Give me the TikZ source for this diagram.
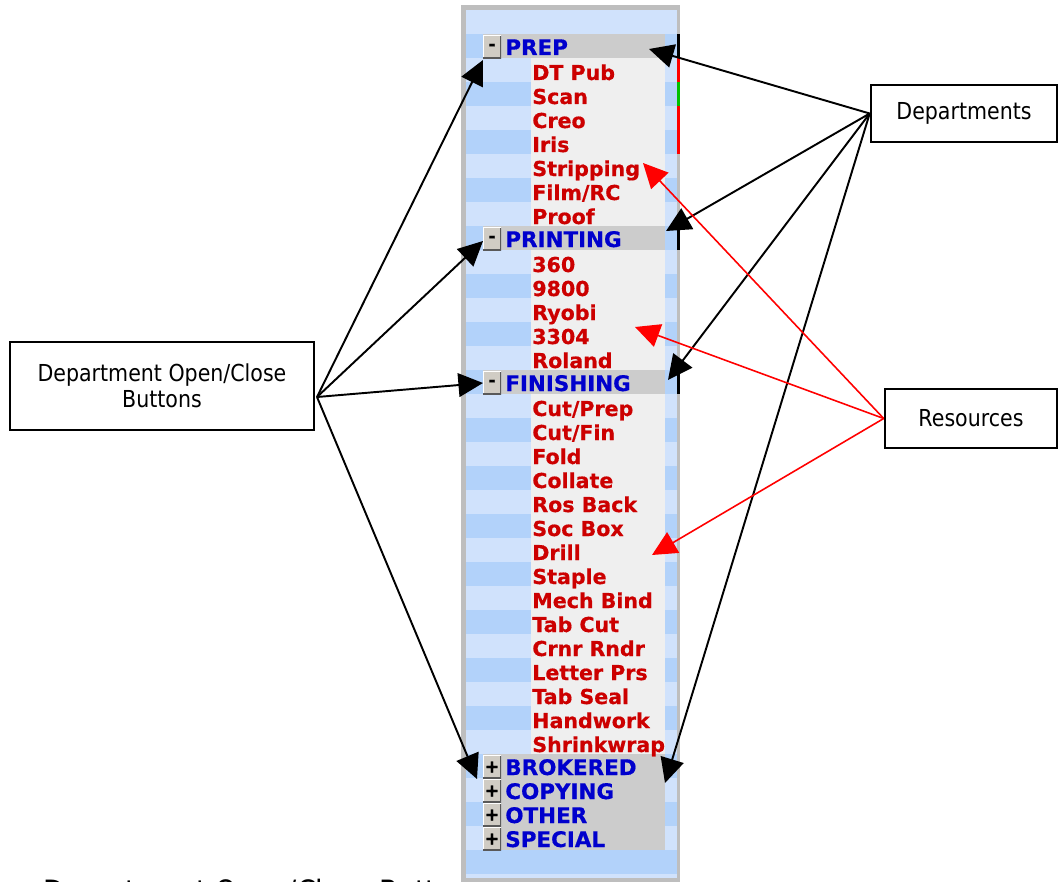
\documentclass[tikz,border=0pt]{standalone}
\usepackage{fontspec}
\usetikzlibrary{arrows.meta}
\newfontfamily\labelfont[FakeStretch=0.88]{DejaVu Sans}
\newfontfamily\listfont[BoldFeatures={FakeBold=0.6}]{DejaVu Sans}
\definecolor{stripelight}{HTML}{D0E2FC}
\definecolor{stripedark}{HTML}{B2D2FA}
\definecolor{framegray}{HTML}{BEBEBE}
\definecolor{panelgray}{HTML}{EFEFEF}
\definecolor{headgray}{HTML}{CCCCCC}
\definecolor{btngray}{HTML}{D0CCC4}
\definecolor{resred}{HTML}{CC0000}
\definecolor{deptblue}{HTML}{0000CC}
\definecolor{markgreen}{HTML}{00C000}

\tikzset{
	labelbox/.style={draw=black, line width=1.5pt, align=center, inner sep=0pt,
		font=\labelfont\fontsize{13.3}{15}\selectfont},
	deptarrow/.style={line width=1.1pt, -{Triangle[length=14pt,width=13.5pt]}},
	resarrow/.style={red, line width=0.9pt, -{Triangle[length=14pt,width=13.5pt]}},
	resitem/.style={anchor=base west, inner sep=0pt, text=resred,
		font=\listfont\bfseries\fontsize{11.7}{12}\selectfont},
	deptitem/.style={anchor=base west, inner sep=0pt, text=deptblue,
		font=\listfont\bfseries\fontsize{12.2}{12}\selectfont},
	togglebtn/.style={fill=btngray, minimum width=0.36cm, minimum height=0.46cm,
		inner sep=0pt, font=\listfont\bfseries\fontsize{10}{10}\selectfont,
		path picture={
			\draw[white, line width=1pt] (path picture bounding box.south west)
				-- (path picture bounding box.north west) -- (path picture bounding box.north east);
			\draw[black!65, line width=1.4pt] (path picture bounding box.south west)
				-- (path picture bounding box.south east) -- (path picture bounding box.north east);
		}},
}

\begin{document}
\begin{tikzpicture}[x=0.02cm, y=-0.02cm]
	\useasboundingbox (0,0) rectangle (1059,882);
	\clip (0,0) rectangle (1059,882);

	% caption cut by the page edge
	\node[anchor=north west, inner sep=0pt, font=\labelfont\fontsize{17.5}{18}\selectfont]
		(caption) at (43,879) {Department Open/Close Buttons};

	% the panel
	\fill[framegray] (461,5) rectangle (680,882);
	\fill[stripelight] (466,10) rectangle (677,878);
	\foreach \k in {1,3,...,35}
		\fill[stripedark] (466,{10+24*\k}) rectangle (677,{34+24*\k});
	\fill[panelgray] (531,58) rectangle (665,755);
	\foreach \k in {1,9,15}
		\fill[headgray] (483,{10+24*\k}) rectangle (665,{34+24*\k});
	\fill[headgray] (483,754) rectangle (665,850);

	% markers on the right edge
	\foreach \k in {1,9,15}
		\fill[black] (677,{10+24*\k}) rectangle (680,{34+24*\k});
	\fill[red] (677,58) rectangle (680,82);
	\fill[markgreen] (677,82) rectangle (680,106);
	\fill[red] (677,106) rectangle (680,154);

	% departments
	\foreach \k/\name in {1/PREP,9/PRINTING,15/FINISHING}{
		\node[togglebtn] (btn\k) at (492,{23+24*\k}) {-};
		\node[deptitem] (dept\k) at (505,{31+24*\k}) {\name};
	}
	\foreach \k/\name in {31/BROKERED,32/COPYING,33/OTHER,34/SPECIAL}{
		\node[togglebtn] (btn\k) at (492,{23+24*\k}) {+};
		\node[deptitem] (dept\k) at (505,{31+24*\k}) {\name};
	}

	% resources
	\foreach \k/\name in {2/DT Pub,3/Scan,4/Creo,5/Iris,6/Stripping,7/{Film/RC},8/Proof,
		10/360,11/9800,12/Ryobi,13/3304,14/Roland,
		16/{Cut/Prep},17/{Cut/Fin},18/Fold,19/Collate,20/Ros Back,21/Soc Box,22/Drill,
		23/Staple,24/Mech Bind,25/Tab Cut,26/Crnr Rndr,27/Letter Prs,28/Tab Seal,
		29/Handwork,30/Shrinkwrap}
		\node[resitem] (res\k) at (532,{32+24*\k}) {\name};

	% callouts
	\node[labelbox, minimum width=6.08cm, minimum height=1.76cm] (btnsbox) at (162,386)
		{Department Open/Close\\Buttons};
	\node[labelbox, minimum width=3.72cm, minimum height=1.14cm] (deptbox) at (964,113.5)
		{Departments};
	\node[labelbox, minimum width=3.44cm, minimum height=1.18cm] (resbox) at (971,418.5)
		{Resources};

	\coordinate (btnsjoin) at (317,397);
	\coordinate (tipbtn1) at (483,60);
	\coordinate (tipbtn9) at (483,241);
	\coordinate (tipbtn15) at (483,383);
	\coordinate (tipbtn31) at (477,779);
	\coordinate (tipdept1) at (649,49);
	\coordinate (tipdept9) at (666,231);
	\coordinate (tipdept15) at (668,380);
	\coordinate (tipdept31) at (665,783);
	\coordinate (tipres6) at (643,163);
	\coordinate (tipres13) at (635,327);
	\coordinate (tipres22) at (652,555);

	\foreach \k in {1,9,15,31}{
		\draw[deptarrow] (btnsjoin) -- (tipbtn\k);
		\draw[deptarrow] (deptbox.west) -- (tipdept\k);
	}
	\foreach \k in {6,13,22}
		\draw[resarrow] (resbox.west) -- (tipres\k);
\end{tikzpicture}
\end{document}
